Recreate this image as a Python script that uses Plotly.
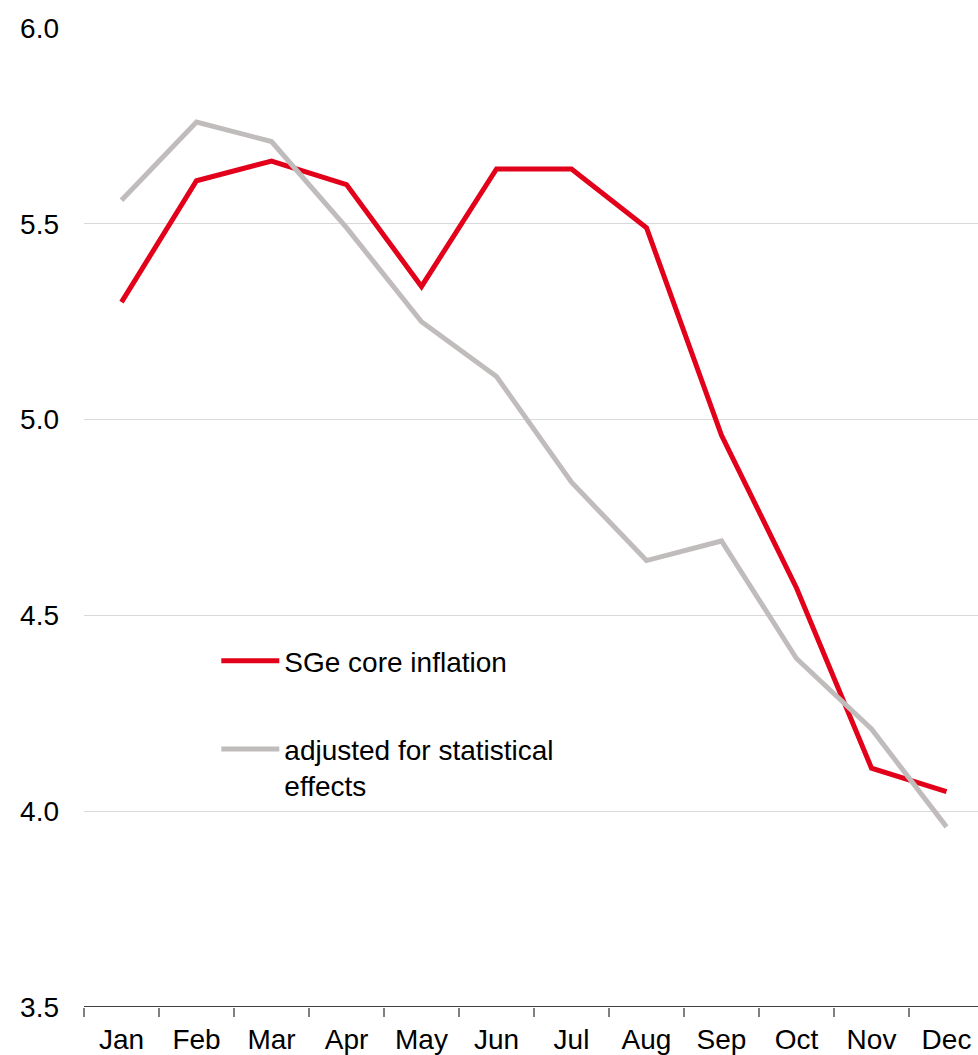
import plotly.graph_objects as go

months = ["Jan", "Feb", "Mar", "Apr", "May", "Jun", "Jul", "Aug", "Sep", "Oct", "Nov", "Dec"]
core_inflation = [5.30, 5.61, 5.66, 5.60, 5.34, 5.64, 5.64, 5.49, 4.96, 4.57, 4.11, 4.05]
adjusted = [5.56, 5.76, 5.71, 5.49, 5.25, 5.11, 4.84, 4.64, 4.69, 4.39, 4.21, 3.96]
y_ticks = [3.5, 4.0, 4.5, 5.0, 5.5, 6.0]

FONT = "Liberation Sans, Arial, sans-serif"
FS = 28

fig = go.Figure()
fig.add_trace(go.Scatter(
    x=months, y=core_inflation, mode="lines", name="SGe core inflation",
    line=dict(color="#E2001A", width=5), legendgroup="a",
))
fig.add_trace(go.Scatter(
    x=months, y=adjusted, mode="lines", name="adjusted for statistical<br>effects",
    line=dict(color="#C0BCBC", width=5), legendgroup="b",
))

fig.update_layout(
    width=978, height=1055,
    margin=dict(l=84, r=0, t=28, b=48),
    plot_bgcolor="white", paper_bgcolor="white",
    font=dict(family=FONT, size=FS, color="black"),
    showlegend=True,
    legend=dict(
        x=0.148, y=0.379, xanchor="left", yanchor="top",
        bgcolor="rgba(0,0,0,0)", font=dict(size=FS),
        tracegroupgap=49, itemwidth=58, valign="top",
    ),
    xaxis=dict(
        type="category", range=[-0.5, 11.42],
        showgrid=False, showline=False,
        ticks="outside", tickson="boundaries", ticklen=9, tickcolor="#808080",
        tickwidth=1.5, tickfont=dict(size=FS), ticklabelstandoff=13,
    ),
    yaxis=dict(
        range=[3.5, 6.0], tickvals=y_ticks, ticktext=[f"{v:.1f}" for v in y_ticks],
        showgrid=True, gridcolor="#D9D9D9", gridwidth=1,
        zeroline=False, showline=False, ticks="", tickfont=dict(size=FS),
        ticklabelstandoff=24,
    ),
    shapes=[dict(type="line", xref="paper", yref="y", x0=0, x1=1, y0=3.5, y1=3.5,
                 line=dict(color="black", width=1.5))],
)

fig.write_html("out.html")
